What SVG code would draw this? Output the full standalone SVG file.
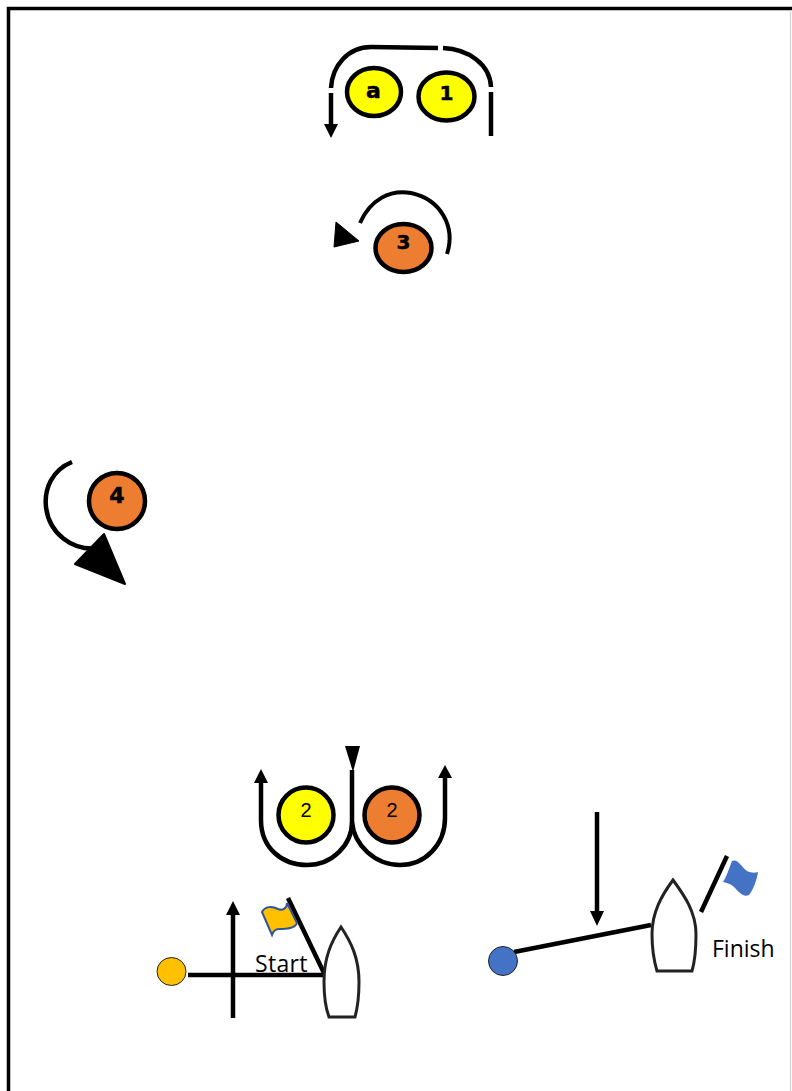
<svg xmlns="http://www.w3.org/2000/svg" width="792" height="1091" viewBox="0 0 792 1091">
<defs><filter id="soft" x="-10%" y="-10%" width="120%" height="120%"><feGaussianBlur stdDeviation="0.7"/></filter></defs>
<style>
.ln{fill:none;stroke:#000;stroke-width:4.5}
.th{fill:none;stroke:#000;stroke-width:4}
.c{stroke:#000;stroke-width:4.5}
.y{fill:#ffff00}.o{fill:#ed7d31}
.t{font-family:"Liberation Sans",sans-serif;fill:#000;text-anchor:middle;font-size:20px}
.b{font-family:"DejaVu Sans",sans-serif;font-weight:bold;fill:#000;stroke:#000;stroke-width:.5;text-anchor:middle}
.boat{fill:#fff;stroke:#222;stroke-width:3;filter:url(#soft)}
.lab{font-family:"Open Sans",sans-serif;font-size:23px;fill:#000}
</style>
<rect id="page" width="792" height="1091" fill="#fff"/>
<path id="border" d="M8.500 1091V8.500H792" fill="none" stroke="#000" stroke-width="3.500"/>
<path id="edge" d="M790.500 10V1091" fill="none" stroke="#d9d9d9" stroke-width="1.500"/>
<g id="connectors">
<path class="ln" d="M331 88C332 66 348 47 371 47L438 48"/>
<path class="ln" d="M443 48C468 49 490 64 491 87"/>
<path class="ln" d="M491 92V136"/>
<path class="ln" d="M331 93V127"/><path d="M324 124H338L331 138Z"/>
<path class="th" d="M360 223C370 200 390 189 411 193C440 199 456 226 447 254"/>
<path d="M336 222L359 241L334 247Z" stroke="#000" stroke-linejoin="round"/>
<path class="ln" d="M72 462C52 470 44 489 46 507C49 533 72 552 100 548"/>
<path d="M104 534L125 584L75 564Z" stroke="#000" stroke-width="2" stroke-linejoin="round"/>
<path class="ln" d="M261 780V820C261 848 282 865 307 865C332 865 352 845 352 822V770"/>
<path d="M254 783H268L261 769Z"/>
<path class="ln" d="M352 822C354 845 375 865 400 865C425 865 445 845 445 818V776"/>
<path d="M438 778H452L445 765Z"/>
<path d="M345 746H360L353 772Z"/>
<path class="ln" d="M233 912V1018"/><path d="M226 915H240L233 901Z"/>
<path class="ln" d="M188 975H324"/>
<path class="ln" d="M288 898L324 973"/>
<path class="ln" d="M597 812V916"/><path d="M590 911H604L597 926Z"/>
<path class="ln" d="M514 952L651 925"/>
<path class="ln" d="M701 912L727 856"/>
</g>
<g id="node-a"><ellipse class="c y" cx="374" cy="92" rx="27" ry="24"/><text class="b" x="373.500" y="98" font-size="22">a</text></g>
<g id="node-1"><ellipse class="c y" cx="446.500" cy="96.500" rx="28" ry="24"/><text class="b" x="446.500" y="100" font-size="20">1</text></g>
<g id="node-3"><ellipse class="c o" cx="403.500" cy="248" rx="28" ry="24"/><text class="b" x="403.500" y="249" font-size="20">3</text></g>
<g id="node-4"><circle class="c o" cx="117" cy="501" r="28"/><text class="b" x="117" y="503" font-size="22">4</text></g>
<g id="node-2y"><circle class="c y" cx="306" cy="815" r="27.500"/><text class="t" x="306" y="817">2</text></g>
<g id="node-2o"><circle class="c o" cx="392" cy="815" r="27.500"/><text class="t" x="392" y="817">2</text></g>
<g id="start-buoy"><ellipse cx="171.500" cy="971.500" rx="14.500" ry="14" fill="#ffc000" stroke="#222" stroke-width="1"/></g>
<g id="start-flag"><path d="M262 912C265 906 272 906 278 909C283 911 287 908 287 903L297 923C295 929 285 929 279 929C275 929 273 932 272 935Z" fill="#ffc000" stroke="#2f5597" stroke-width="2"/></g>
<g id="start-boat"><path class="boat" d="M341 927C331 942 324 958 324 982C324 998 326 1009 329 1017H355C358 1006 359 996 359 982C359 958 351 942 341 927Z"/></g>
<g id="start-label"><text class="lab" x="255" y="972" letter-spacing=".3">Start</text></g>
<g id="finish-buoy"><circle cx="503" cy="961" r="14.500" fill="#4472c4" stroke="#222" stroke-width="1"/></g>
<g id="finish-flag"><path d="M732 861C738 858 742 868 747 871C751 873 755 873 758 872C757 880 753 890 749 895C743 898 738 891 734 887C731 884 727 883 723 882C727 876 729 868 732 861Z" fill="#4472c4"/></g>
<g id="finish-boat"><path class="boat" d="M673 880C662 895 652 912 652 934C652 949 654 961 657 971H692C695 961 696 949 696 934C696 912 684 895 673 880Z"/></g>
<g id="finish-label"><text class="lab" x="712" y="957">Finish</text></g>
</svg>
